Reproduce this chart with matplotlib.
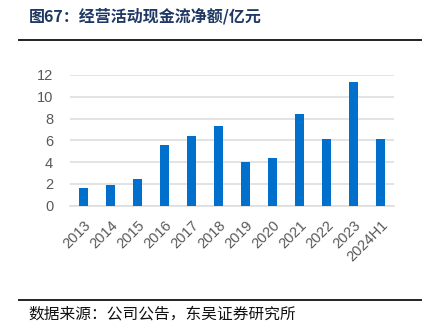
import matplotlib
matplotlib.use("Agg")
import matplotlib.pyplot as plt
from matplotlib.lines import Line2D

plt.rcParams['font.family'] = ['Liberation Sans', 'Noto Sans CJK SC', 'DejaVu Sans']

categories = ["2013", "2014", "2015", "2016", "2017", "2018", "2019",
              "2020", "2021", "2022", "2023", "2024H1"]
values = [1.6, 1.87, 2.45, 5.55, 6.43, 7.35, 3.98, 4.38, 8.42, 6.1, 11.39, 6.12]
yticks = [0, 2, 4, 6, 8, 10, 12]

title = "图67：经营活动现金流净额/亿元"
source = "数据来源：公司公告，东吴证券研究所"

fig = plt.figure(figsize=(4.34, 3.30), dpi=100)
ax = fig.add_axes([0.161, 0.3767, 0.747, 0.3963])

x = list(range(len(categories)))
ax.bar(x, values, width=0.32, color="#0070cc", zorder=3)

ax.set_xlim(-0.5, len(categories) - 0.5)
ax.set_ylim(0, 12)
ax.set_yticks(yticks)
ax.set_yticklabels([str(v) for v in yticks], color="#595959", fontsize=10.5)
ax.set_xticks(x)
ax.set_xticklabels(categories, rotation=45, ha="right", rotation_mode="anchor",
                   color="#595959", fontsize=10.5)
ax.tick_params(axis="both", length=0)
ax.tick_params(axis="y", pad=12)
ax.tick_params(axis="x", pad=9)
ax.grid(axis="y", color="#dedede", linewidth=1.2, zorder=0)
for s in ["top", "right", "left"]:
    ax.spines[s].set_visible(False)
ax.spines["bottom"].set_color("#dedede")
ax.spines["bottom"].set_linewidth(1.2)

fig.text(29 / 434, 1 - 16 / 330, title, fontsize=11.5, fontweight="bold",
         color="#1f3864", va="center", ha="left",
         family=['Noto Sans CJK SC', 'DejaVu Sans'])
fig.add_artist(Line2D([19 / 434, 421 / 434], [1 - 39.5 / 330, 1 - 39.5 / 330],
                      color="#222222", linewidth=1.4, transform=fig.transFigure))
fig.add_artist(Line2D([19 / 434, 421 / 434], [1 - 299.5 / 330, 1 - 299.5 / 330],
                      color="#222222", linewidth=1.4, transform=fig.transFigure))
fig.text(28 / 434, 1 - 314 / 330, source, fontsize=11.3, color="#111111",
         va="center", ha="left", family=['Noto Sans CJK SC', 'DejaVu Sans'])

fig.savefig("out.png", dpi=100)
